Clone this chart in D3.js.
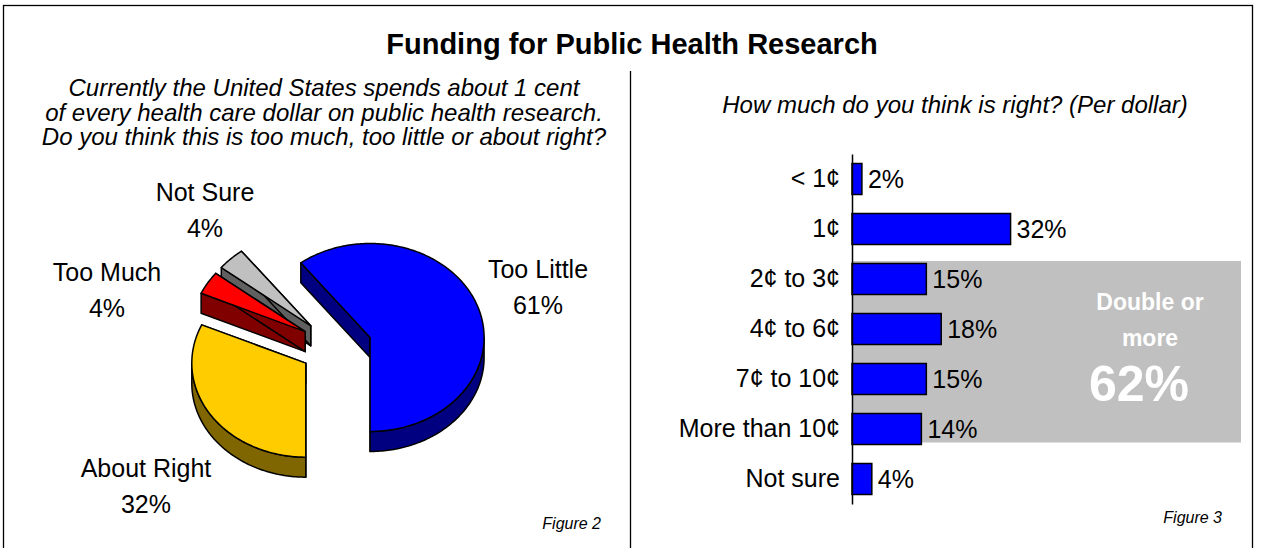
<!DOCTYPE html>
<html>
<head>
<meta charset="utf-8">
<script src="https://cdn.jsdelivr.net/npm/d3@7"></script>
<style>
  body { margin: 0; background: #fff; }
  svg { display: block; font-family: "Liberation Sans", Arial, sans-serif; }
</style>
</head>
<body>
<svg id="chart" width="1262" height="548"></svg>
<script>
// ---------- data ----------
const chartTitle = "Funding for Public Health Research";
const pieQuestion = [
  "Currently the United States spends about 1 cent",
  "of every health care dollar on public health research.",
  "Do you think this is too much, too little or about right?"
];
const barQuestion = "How much do you think is right? (Per dollar)";
const pieCategories = ["Too Little", "About Right", "Too Much", "Not Sure"];
const pieValues = [61, 32, 4, 4];
const pieTopColors = ["#0000ff", "#ffcc00", "#ff0000", "#c0c0c0"];
const pieSideColors = ["#000080", "#806600", "#800000", "#606060"];
const barCategories = ["< 1¢", "1¢", "2¢ to 3¢", "4¢ to 6¢", "7¢ to 10¢", "More than 10¢", "Not sure"];
const barValues = [2, 32, 15, 18, 15, 14, 4];
const highlightFrom = "2¢ to 3¢";
const highlightTo = "More than 10¢";
const highlightLines = ["Double or", "more"];
const highlightValue = "62%";
const figureLabels = ["Figure 2", "Figure 3"];

// ---------- setup ----------
const svg = d3.select("#chart");
const W = 1262, H = 548;

// outer frame and divider
svg.append("rect").attr("x", 3.5).attr("y", 5.5).attr("width", 1249).attr("height", 560)
  .attr("fill", "none").attr("stroke", "#000").attr("stroke-width", 1.3);
svg.append("line").attr("x1", 630.5).attr("x2", 630.5).attr("y1", 71).attr("y2", H)
  .attr("stroke", "#000").attr("stroke-width", 1.3);

// title
svg.append("text").attr("x", 632).attr("y", 54).attr("text-anchor", "middle")
  .attr("font-size", 29).attr("font-weight", "bold").text(chartTitle);

// pie question
svg.append("g").selectAll("text").data(pieQuestion).join("text")
  .attr("x", 324).attr("y", (d, i) => 96 + i * 24.5)
  .attr("text-anchor", "middle").attr("font-size", 24).attr("font-style", "italic")
  .text(d => d);

// bar question
svg.append("text").attr("x", 955).attr("y", 113).attr("text-anchor", "middle")
  .attr("font-size", 24).attr("font-style", "italic").text(barQuestion);

// figure labels
svg.append("text").attr("x", 601).attr("y", 529).attr("text-anchor", "end")
  .attr("font-size", 16).attr("font-style", "italic").text(figureLabels[0]);
svg.append("text").attr("x", 1222).attr("y", 523).attr("text-anchor", "end")
  .attr("font-size", 16).attr("font-style", "italic").text(figureLabels[1]);

// ---------- 3D exploded pie ----------
const cx = 336, cy = 347, rx = 114, ry = 94, depth = 20, explode = 36;
const deg = Math.PI / 180;
const blueShare = pieValues[0] / d3.sum(pieValues) * 2 * Math.PI;
const startA = Math.PI - blueShare;
const arcs = d3.pie().sort(null).startAngle(startA).endAngle(startA + 2 * Math.PI)(pieValues);

function pt(a, ox, oy, dz) {
  return [cx + ox + rx * Math.sin(a), cy + oy - ry * Math.cos(a) + dz];
}
const line = d3.line();
function arcPoints(a0, a1, ox, oy, dz) {
  const n = Math.max(2, Math.ceil(Math.abs(a1 - a0) / (1 * deg)));
  const pts = [];
  for (let i = 0; i <= n; i++) pts.push(pt(a0 + (a1 - a0) * i / n, ox, oy, dz));
  return pts;
}
function visibleRange(a0, a1) {
  const res = [];
  for (const k of [-1, 0, 1]) {
    const lo = Math.PI / 2 + k * 2 * Math.PI, hi = 3 * Math.PI / 2 + k * 2 * Math.PI;
    const b0 = Math.max(a0, lo), b1 = Math.min(a1, hi);
    if (b1 > b0) res.push([b0, b1]);
  }
  return res;
}

const slices = arcs.map((a, i) => {
  const mid = (a.startAngle + a.endAngle) / 2;
  return {
    i, a0: a.startAngle, a1: a.endAngle, mid,
    ox: explode * Math.sin(mid), oy: -explode * (ry / rx) * Math.cos(mid)
  };
}).sort((p, q) => Math.cos(q.mid) - Math.cos(p.mid));

const pieG = svg.append("g").attr("stroke", "#000").attr("stroke-width", 1.5)
  .attr("stroke-linejoin", "round");

slices.forEach(s => {
  const g = pieG.append("g");
  const apex = [cx + s.ox, cy + s.oy];
  [s.a0, s.a1].forEach(a => {
    const p = pt(a, s.ox, s.oy, 0);
    g.append("path").attr("fill", pieSideColors[s.i])
      .attr("d", line([apex, p, [p[0], p[1] + depth], [apex[0], apex[1] + depth]]) + "Z");
  });
  visibleRange(s.a0, s.a1).forEach(([b0, b1]) => {
    const top = arcPoints(b0, b1, s.ox, s.oy, 0);
    const bot = arcPoints(b0, b1, s.ox, s.oy, depth).reverse();
    g.append("path").attr("fill", pieSideColors[s.i]).attr("d", line(top.concat(bot)) + "Z");
  });
  g.append("path").attr("fill", pieTopColors[s.i])
    .attr("d", line([apex].concat(arcPoints(s.a0, s.a1, s.ox, s.oy, 0))) + "Z");
});

// pie labels
const pieLabelPos = {
  "Too Little": [538, 278],
  "About Right": [146, 477],
  "Too Much": [107, 281],
  "Not Sure": [205, 201]
};
pieCategories.forEach((c, i) => {
  const [x, y] = pieLabelPos[c];
  const t = svg.append("text").attr("text-anchor", "middle").attr("font-size", 25);
  t.append("tspan").attr("x", x).attr("y", y).text(c);
  t.append("tspan").attr("x", x).attr("y", y + 36).text(pieValues[i] + "%");
});

// ---------- bar chart ----------
const x = d3.scaleLinear().domain([0, 78.5]).range([852, 1241]);
const y = d3.scaleBand().domain(barCategories).range([154, 504])
  .paddingInner(0.38).paddingOuter(0.19);

// highlight box
const hy0 = y(highlightFrom) - 2.5, hy1 = y(highlightTo) + y.bandwidth() - 2;
svg.append("rect").attr("x", x(0)).attr("y", hy0).attr("width", x(78.5) - x(0))
  .attr("height", hy1 - hy0).attr("fill", "#c0c0c0");
svg.append("g").selectAll("text").data(highlightLines).join("text")
  .attr("x", 1150).attr("y", (d, i) => 310 + i * 36)
  .attr("text-anchor", "middle").attr("font-size", 23).attr("font-weight", "bold")
  .attr("fill", "#fff").text(d => d);
svg.append("text").attr("x", 1139).attr("y", 401).attr("text-anchor", "middle")
  .attr("font-size", 50).attr("font-weight", "bold").attr("fill", "#fff").text(highlightValue);

// bars
svg.append("g").selectAll("rect").data(barValues).join("rect")
  .attr("x", x(0)).attr("y", (d, i) => y(barCategories[i]))
  .attr("width", d => x(d) - x(0)).attr("height", y.bandwidth())
  .attr("fill", "#0000ff").attr("stroke", "#000").attr("stroke-width", 1.5);

// value labels
svg.append("g").selectAll("text").data(barValues).join("text")
  .attr("x", d => x(d) + 6).attr("y", (d, i) => y(barCategories[i]) + y.bandwidth() / 2)
  .attr("dy", "0.36em").attr("font-size", 25).text(d => d + "%");

// axis
const axis = svg.append("g").attr("transform", `translate(${x(0)},0)`)
  .call(d3.axisLeft(y).tickSize(0).tickPadding(12));
axis.select(".domain").attr("stroke", "#000").attr("stroke-width", 1.5);
axis.selectAll(".tick text").attr("font-size", 25).attr("fill", "#000")
  .attr("font-family", "Liberation Sans, Arial, sans-serif");
</script>
</body>
</html>
